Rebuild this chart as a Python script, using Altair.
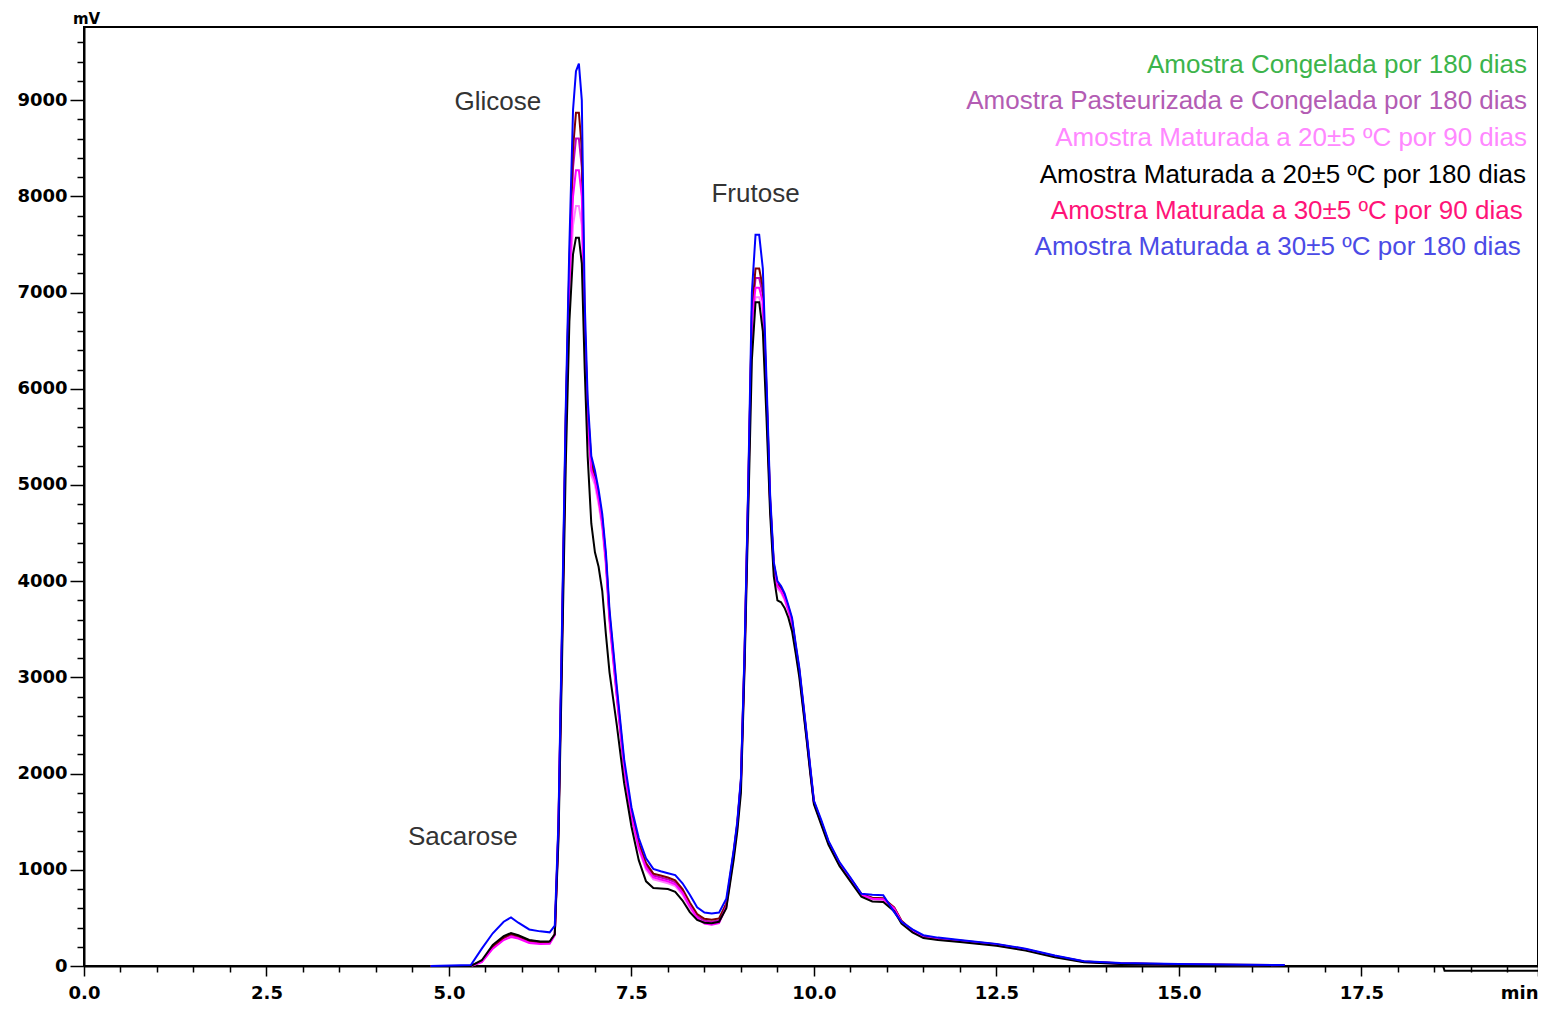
import altair as alt
import pandas as pd

# retention time (min)
times = [4.75, 5.30, 5.45, 5.60, 5.75, 5.85, 5.95, 6.10, 6.25, 6.38,
         6.45, 6.50, 6.55, 6.60, 6.65, 6.70, 6.74, 6.78, 6.82, 6.86,
         6.90, 6.95, 7.00, 7.05, 7.10, 7.15, 7.20, 7.30, 7.40, 7.50,
         7.60, 7.70, 7.80, 7.90, 8.00, 8.10, 8.20, 8.30, 8.40, 8.50,
         8.60, 8.70, 8.80, 8.90, 8.95, 9.00, 9.05, 9.10, 9.15, 9.20,
         9.25, 9.30, 9.35, 9.40, 9.45, 9.50, 9.55, 9.60, 9.65, 9.70,
         9.75, 9.80, 9.85, 9.90, 9.95, 10.00, 10.10, 10.20, 10.35, 10.50,
         10.65, 10.80, 10.95, 11.10, 11.20, 11.35, 11.50, 11.70, 12.00, 12.50,
         12.90, 13.30, 13.70, 14.20, 15.00, 16.45]

congelada_180 = [0, 0, 50, 200, 295, 335, 310, 265, 250, 252,
                 330, 1450, 3500, 5700, 7300, 8500, 8870, 8870, 8500, 6700,
                 5800, 5250, 5100, 4900, 4650, 4250, 3650, 2850, 2100, 1600,
                 1280, 1070, 960, 940, 920, 890, 800, 660, 540, 490,
                 480, 495, 650, 1180, 1480, 1930, 3250, 4950, 6800, 7250,
                 7250, 7050, 6000, 4850, 4180, 3980, 3930, 3850, 3730, 3600,
                 3330, 3080, 2740, 2400, 2050, 1710, 1500, 1290, 1070, 910,
                 750, 710, 705, 610, 470, 370, 310, 285, 265, 225,
                 175, 105, 48, 28, 18, 8]

pasteurizada_180 = [0, 0, 48, 195, 290, 325, 302, 258, 245, 246,
                    328, 1440, 3460, 5650, 7250, 8300, 8600, 8600, 8300, 6650,
                    5750, 5200, 5070, 4870, 4620, 4220, 3620, 2820, 2080, 1580,
                    1260, 1050, 940, 920, 900, 870, 780, 640, 520, 470,
                    460, 475, 640, 1170, 1470, 1920, 3230, 4930, 6750, 7150,
                    7150, 6980, 5950, 4820, 4160, 3960, 3910, 3830, 3710, 3580,
                    3310, 3060, 2730, 2390, 2040, 1700, 1490, 1280, 1065, 905,
                    745, 705, 700, 605, 465, 365, 305, 282, 262, 222,
                    172, 102, 46, 26, 16, 6]

mat20_90 = [0, 0, 45, 190, 280, 315, 295, 250, 238, 240,
            325, 1420, 3420, 5550, 7000, 7700, 7900, 7900, 7700, 6500,
            5650, 5100, 5000, 4800, 4550, 4150, 3550, 2780, 2030, 1530,
            1210, 1000, 900, 880, 860, 830, 740, 600, 490, 445,
            435, 450, 610, 1130, 1430, 1880, 3150, 4850, 6600, 6950,
            6950, 6800, 5850, 4780, 4120, 3920, 3880, 3800, 3680, 3550,
            3280, 3030, 2700, 2360, 2010, 1690, 1480, 1270, 1050, 890,
            730, 690, 685, 590, 455, 355, 295, 275, 255, 215,
            165, 95, 42, 22, 12, 5]

mat20_180 = [0, 0, 60, 220, 310, 343, 320, 270, 255, 255,
             330, 1300, 3200, 5200, 6700, 7400, 7570, 7570, 7300, 6200,
             5300, 4600, 4300, 4150, 3900, 3450, 3050, 2500, 1900, 1450,
             1100, 880, 810, 805, 800, 770, 680, 560, 480, 450,
             445, 460, 600, 1100, 1400, 1800, 3100, 4700, 6300, 6900,
             6900, 6600, 5700, 4700, 4050, 3800, 3780, 3720, 3620, 3480,
             3250, 3000, 2680, 2350, 2000, 1680, 1470, 1260, 1040, 880,
             720, 670, 665, 570, 440, 350, 290, 270, 250, 210,
             160, 90, 40, 20, 10, 0]
# extra points of the black trace at the end of the run (slightly below baseline)
mat20_180_tail_t = [18.62, 18.64, 19.92]
mat20_180_tail_v = [0, -50, -50]

mat30_90 = [0, 0, 40, 180, 270, 300, 285, 240, 228, 230,
            320, 1400, 3400, 5500, 7100, 8000, 8270, 8270, 8000, 6600,
            5700, 5150, 5050, 4850, 4600, 4200, 3600, 2800, 2050, 1550,
            1230, 1020, 920, 900, 880, 850, 760, 620, 500, 440,
            430, 445, 620, 1150, 1450, 1900, 3200, 4900, 6700, 7050,
            7050, 6900, 5900, 4800, 4150, 3950, 3900, 3820, 3700, 3570,
            3300, 3050, 2720, 2380, 2030, 1700, 1490, 1280, 1060, 900,
            740, 700, 695, 600, 460, 360, 300, 280, 260, 220,
            170, 100, 45, 25, 15, 5]

mat30_180 = [0, 10, 180, 340, 460, 505, 450, 380, 360, 350,
             420, 1500, 3600, 5800, 7500, 8900, 9300, 9380, 9000, 6900,
             5900, 5300, 5150, 4950, 4700, 4300, 3700, 2900, 2150, 1650,
             1330, 1120, 1010, 985, 965, 945, 860, 740, 610, 555,
             545, 555, 700, 1200, 1500, 1950, 3280, 5000, 7000, 7600,
             7600, 7250, 6100, 4900, 4200, 4000, 3950, 3870, 3750, 3620,
             3350, 3100, 2760, 2420, 2070, 1720, 1520, 1300, 1080, 920,
             750, 740, 735, 560, 460, 380, 320, 295, 270, 230,
             180, 110, 50, 30, 20, 10]

series_names = ["Amostra Congelada por 180 dias",
                "Amostra Pasteurizada e Congelada por 180 dias",
                "Amostra Maturada a 20±5 ºC por 90 dias",
                "Amostra Maturada a 20±5 ºC por 180 dias",
                "Amostra Maturada a 30±5 ºC por 90 dias",
                "Amostra Maturada a 30±5 ºC por 180 dias"]
legend_colors = ["#3cb44b", "#b35cb3", "#ff88ff", "#000000", "#ff1478", "#4b4be6"]
legend_t = [19.77, 19.77, 19.77, 19.755, 19.71, 19.685]
legend_v = [9367, 8993, 8609, 8224, 7850, 7477]

peak_labels = ["Glicose", "Frutose", "Sacarose"]
peak_t = [5.67, 9.20, 5.19]
peak_v = [8982, 8027, 1340]

series_values = [congelada_180, pasteurizada_180, mat20_90, mat20_180, mat30_90, mat30_180]
line_colors = ["#800000", "#c000c0", "#ff80ff", "#000000", "#ff00ff", "#0000ff"]
draw_order = [2, 1, 0, 4, 3, 5]

rows = []
for i, vals in enumerate(series_values):
    assert len(vals) == len(times), (i, len(vals))
    for t, v in zip(times, vals):
        rows.append({"t": t, "v": v, "serie": series_names[i]})
for t, v in zip(mat20_180_tail_t, mat20_180_tail_v):
    rows.append({"t": t, "v": v, "serie": series_names[3]})
df = pd.DataFrame(rows)

x_max = 19.92
x_ticks = [round(i * 0.5, 1) for i in range(0, 40)] + [x_max]
y_ticks = list(range(0, 9800, 200))

x_axis = alt.Axis(
    values=x_ticks,
    labelExpr=("datum.value > 19.9 ? 'min' : (datum.value % 2.5 == 0 ? format(datum.value, '.1f') : '')"),
    tickSize={"condition": {"test": "datum.value % 2.5 == 0 || datum.value > 19.9", "value": 10}, "value": 6},
    labelAlign={"condition": {"test": "datum.value > 19.9", "value": "right"}, "value": "center"},
    labelFont="DejaVu Sans", labelFontWeight="bold", labelFontSize=18, labelColor="#000",
    labelPadding=8, tickColor="#000", tickWidth=1.5, domainColor="#000", domainWidth=2,
    grid=False, title=None, labelOverlap=False, labelBound=False, labelFlush=False,
)
y_axis = alt.Axis(
    values=y_ticks,
    labelExpr="datum.value % 1000 == 0 ? format(datum.value, 'd') : ''",
    tickSize={"condition": {"test": "datum.value % 1000 == 0", "value": 14}, "value": 7},
    labelFont="DejaVu Sans", labelFontWeight="bold", labelFontSize=18, labelColor="#000",
    labelPadding=3, tickColor="#000", tickWidth=1.5, domainColor="#000", domainWidth=2,
    grid=False, labelOverlap=False, labelBound=False, labelFlush=False,
    title="mV", titleAngle=0, titleAlign="center", titleBaseline="bottom",
    titleX=2, titleY=-1, titleFont="DejaVu Sans", titleFontWeight="bold", titleFontSize=15,
    titleColor="#000",
)

x_enc = alt.X("t:Q", scale=alt.Scale(domain=[0, x_max], nice=False, zero=False), axis=x_axis)
y_enc = alt.Y("v:Q", scale=alt.Scale(domain=[0, 9760], nice=False, zero=False), axis=y_axis)

layers = []
for idx in draw_order:
    layers.append(
        alt.Chart(df)
        .transform_filter(alt.datum.serie == series_names[idx])
        .mark_line(color=line_colors[idx], strokeWidth=2, clip=False)
        .encode(x=x_enc, y=y_enc, order="t:Q")
    )

legend_df = pd.DataFrame({"t": legend_t, "v": legend_v, "label": series_names, "color": legend_colors})
legend_layer = alt.Chart(legend_df).mark_text(
    align="right", baseline="middle", font="Liberation Sans", fontSize=26
).encode(x=x_enc, y=y_enc, text="label:N", color=alt.Color("color:N", scale=None, legend=None))

peak_df = pd.DataFrame({"t": peak_t, "v": peak_v, "label": peak_labels})
peak_layer = alt.Chart(peak_df).mark_text(
    align="center", baseline="middle", font="Liberation Sans", fontSize=26, color="#333333"
).encode(x=x_enc, y=y_enc, text="label:N")

chart = (
    alt.layer(*layers, legend_layer, peak_layer)
    .properties(
        width=1454, height=939,
        autosize=alt.AutoSizeParams(type="none"),
        padding={"left": 76, "top": 19, "right": 0, "bottom": 36},
        background="#ffffff",
    )
    .configure_view(stroke="#000000", strokeWidth=2)
)

chart.save("out.html", embed_options={"renderer": "svg", "actions": False})
